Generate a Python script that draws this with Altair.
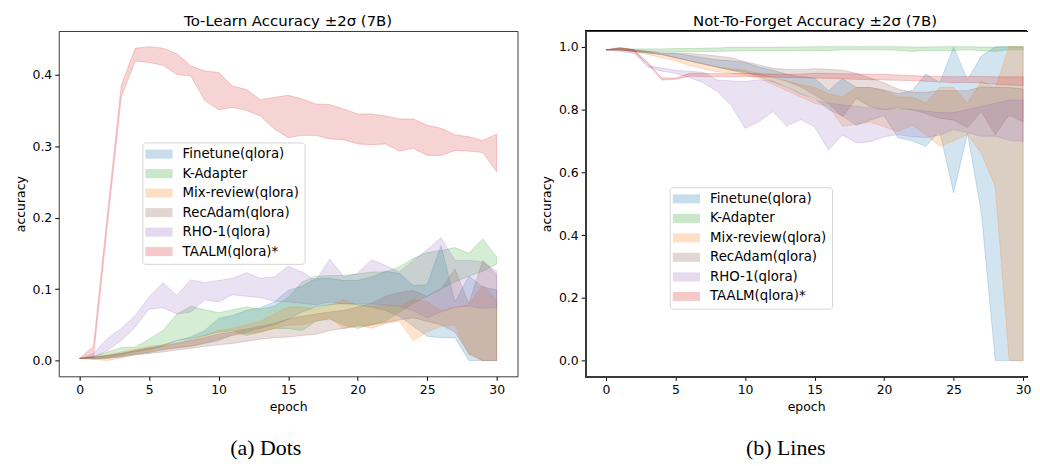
import altair as alt
import pandas as pd

EPOCHS = list(range(31))
SERIES = ["Finetune(qlora)", "K-Adapter", "Mix-review(qlora)", "RecAdam(qlora)", "RHO-1(qlora)", "TAALM(qlora)*"]
COLORS = ["#1f77b4", "#2ca02c", "#ff7f0e", "#8c564b", "#9467bd", "#d62728"]

# ---------- (a) To-Learn accuracy, lower / upper of the ±2σ band ----------
TL_FT_LO = [.003,.003,.004,.006,.009,.011,.015,.018,.020,.024,.028,.036,.040,.045,.050,.058,.068,.075,.078,.080,.078,.075,.070,.062,.048,.034,.032,.032,0,0,0]
TL_FT_HI = [.003,.005,.007,.010,.014,.017,.022,.028,.033,.042,.059,.063,.070,.074,.082,.098,.104,.115,.115,.112,.112,.117,.125,.122,.105,.106,.161,.082,.118,.103,.099]
TL_KA_LO = [.003,.003,.004,.008,.012,.015,.020,.028,.031,.035,.040,.042,.035,.040,.045,.045,.042,.055,.058,.050,.045,.050,.055,.068,.080,.090,.100,.110,.118,.125,.135]
TL_KA_HI = [.003,.006,.012,.018,.019,.030,.042,.065,.076,.071,.067,.071,.075,.072,.076,.088,.110,.118,.119,.119,.121,.124,.124,.131,.143,.151,.154,.158,.150,.170,.145]
TL_MR_LO = [.003,.002,.000,.004,.008,.012,.016,.018,.020,.025,.030,.035,.038,.040,.045,.050,.050,.055,.060,.045,.050,.045,.052,.055,.028,.040,.048,.050,.008,0,0]
TL_MR_HI = [.003,.005,.008,.012,.016,.020,.022,.025,.030,.035,.042,.045,.050,.055,.065,.075,.075,.072,.078,.085,.078,.075,.078,.075,.086,.082,.070,.075,.078,.105,.085]
TL_RA_LO = [.003,.002,.003,.005,.008,.010,.012,.015,.017,.020,.022,.024,.027,.030,.032,.033,.035,.037,.042,.045,.048,.050,.053,.057,.060,.055,.050,.040,.010,0,0]
TL_RA_HI = [.003,.005,.007,.010,.014,.018,.020,.024,.028,.032,.037,.040,.044,.048,.052,.058,.062,.065,.068,.070,.075,.080,.090,.095,.098,.090,.100,.128,.080,.140,.120]
TL_RH_LO = [.003,.004,.014,.028,.047,.072,.074,.065,.068,.085,.082,.092,.090,.088,.083,.082,.080,.078,.082,.079,.080,.079,.078,.076,.070,.060,.068,.075,.076,.073,.074]
TL_RH_HI = [.003,.010,.031,.045,.063,.089,.109,.091,.113,.109,.112,.115,.123,.115,.117,.132,.124,.112,.142,.117,.122,.141,.133,.124,.140,.155,.172,.140,.140,.138,.125]
TL_TA_LO = [.003,.005,.190,.369,.419,.417,.413,.400,.398,.364,.351,.354,.350,.342,.324,.312,.315,.315,.310,.309,.303,.302,.303,.293,.297,.287,.287,.294,.293,.291,.264]
TL_TA_HI = [.003,.0205,.205,.385,.437,.439,.437,.429,.412,.405,.403,.384,.379,.365,.368,.371,.366,.359,.358,.352,.345,.345,.342,.338,.338,.329,.325,.316,.313,.308,.317]

# ---------- (b) Not-To-Forget accuracy ----------
NF_FT_LO = [.99,.99,.985,.98,.975,.965,.955,.945,.935,.925,.92,.904,.888,.872,.851,.835,.80,.78,.75,.766,.78,.71,.70,.683,.73,.535,.724,.47,0,0,0]
NF_FT_HI = [.99,.995,.99,.985,.98,.978,.972,.965,.958,.955,.95,.935,.925,.912,.905,.90,.86,.899,.87,.87,.862,.85,.86,.913,.885,.998,.895,.97,1.0,1.0,1.0]
NF_KA_LO = [.99,.99,.985,.985,.985,.984,.984,.985,.985,.986,.987,.987,.987,.987,.988,.988,.987,.99,.99,.99,.99,.989,.985,.988,.988,.988,.99,.988,.985,.99,.99]
NF_KA_HI = [.99,.995,.993,.993,.993,.994,.994,.995,.996,.998,.998,.998,.998,.999,.999,1.0,1.0,1.0,1.0,1.0,1.0,1.0,.999,.999,1.0,1.0,1.0,.999,.998,1.0,1.0]
NF_MR_LO = [.99,.99,.985,.975,.965,.955,.94,.93,.92,.915,.91,.90,.88,.86,.84,.82,.81,.747,.753,.76,.745,.73,.75,.72,.683,.70,.72,.66,.553,0,0]
NF_MR_HI = [.99,.995,.99,.985,.975,.965,.955,.945,.935,.93,.925,.915,.90,.89,.88,.87,.85,.84,.87,.87,.86,.84,.84,.82,.87,.87,.82,.89,.87,1.0,1.0]
NF_RA_LO = [.99,.99,.985,.98,.975,.965,.955,.945,.935,.925,.915,.91,.904,.89,.872,.846,.82,.777,.835,.809,.80,.805,.80,.787,.772,.766,.743,.793,.72,.782,.761]
NF_RA_HI = [.99,.995,.99,.985,.98,.98,.978,.975,.97,.965,.952,.942,.931,.928,.926,.93,.928,.925,.915,.90,.885,.865,.855,.855,.86,.86,.86,.872,.87,.87,.865]
NF_RH_LO = [.99,.985,.979,.936,.922,.915,.902,.885,.857,.814,.74,.761,.793,.747,.768,.745,.671,.719,.694,.697,.713,.72,.713,.711,.718,.736,.726,.715,.715,.702,.698]
NF_RH_HI = [.99,.99,.99,.94,.932,.925,.922,.918,.894,.891,.889,.895,.89,.87,.85,.83,.82,.815,.81,.805,.80,.80,.80,.795,.79,.79,.80,.81,.82,.83,.83]
NF_TA_LO = [.99,.99,.985,.945,.894,.896,.906,.905,.905,.904,.905,.904,.903,.902,.901,.90,.899,.898,.896,.895,.894,.893,.892,.89,.888,.885,.886,.884,.88,.878,.876]
NF_TA_HI = [.99,.998,.99,.95,.901,.90,.915,.915,.914,.914,.915,.914,.913,.912,.913,.915,.915,.914,.913,.912,.912,.91,.908,.906,.905,.904,.905,.905,.904,.904,.904]

X_TICKS = [0, 5, 10, 15, 20, 25, 30]
TL_Y_TICKS = [0.0, 0.1, 0.2, 0.3, 0.4]
NF_Y_TICKS = [0.0, 0.2, 0.4, 0.6, 0.8, 1.0]

FONT = "DejaVu Sans"
RECT = "M-2.1,-0.7L2.1,-0.7L2.1,0.7L-2.1,0.7Z"
FRAME = "#3a3a3a"
HEIGHT = 347


def build_df(lows, highs):
    rows = []
    for name, lo, hi in zip(SERIES, lows, highs):
        for e, a, b in zip(EPOCHS, lo, hi):
            rows.append({"epoch": e, "series": name, "lo": a, "hi": b})
    return pd.DataFrame(rows)


def panel(title, lows, highs, ydom, yticks, lx, ly, width, xmax, framed, title_dx):
    df = build_df(lows, highs)
    area = alt.Chart(df).mark_area(
        fillOpacity=0.2, strokeOpacity=0.22, strokeWidth=1, interpolate="linear"
    ).encode(
        x=alt.X("epoch:Q", scale=alt.Scale(domain=[-1.5, xmax], nice=False, zero=False),
                axis=alt.Axis(values=X_TICKS, format="d", title="epoch", labelFlush=False)),
        y=alt.Y("lo:Q", stack=None, scale=alt.Scale(domain=ydom, nice=False, zero=False),
                axis=alt.Axis(values=yticks, format=".1f", title="accuracy", labelFlush=False)),
        y2="hi:Q",
        color=alt.Color("series:N", scale=alt.Scale(domain=SERIES, range=COLORS),
                        legend=alt.Legend(title=None, orient="none", legendX=lx, legendY=ly,
                                          symbolType=RECT, symbolSize=169, symbolOpacity=0.25,
                                          symbolStrokeWidth=0, symbolOffset=5,
                                          labelFont=FONT, labelFontSize=13.4, labelColor="#000",
                                          rowPadding=4.6, padding=5, labelOffset=17,
                                          strokeColor="#d4d4d4", fillColor="white",
                                          cornerRadius=3, labelLimit=300)),
        stroke=alt.Stroke("series:N", scale=alt.Scale(domain=SERIES, range=COLORS), legend=None),
    )
    layers = [area]
    if not framed:
        # axes frame drawn on three sides (the right border is cropped in the original figure)
        layers.append(alt.Chart(df).mark_rule(color=FRAME, strokeWidth=1).encode(
            x=alt.value(0), x2=alt.value(width), y=alt.value(0.5)))
        layers.append(alt.Chart(df).mark_rule(color=FRAME, strokeWidth=1).encode(
            x=alt.value(0), x2=alt.value(width), y=alt.value(HEIGHT + 0.5)))
        layers.append(alt.Chart(df).mark_rule(color=FRAME, strokeWidth=1).encode(
            x=alt.value(0.5), y=alt.value(0), y2=alt.value(HEIGHT)))
    ch = alt.layer(*layers).properties(
        width=width, height=HEIGHT,
        title=alt.TitleParams(title, font=FONT, fontSize=15, fontWeight="normal",
                              color="#000", offset=2, anchor="middle", dx=title_dx),
    )
    if framed:
        ch = ch.properties(view=alt.ViewBackground(stroke=FRAME, strokeWidth=1))
    else:
        ch = ch.properties(view=alt.ViewBackground(strokeOpacity=0))
    return ch


left = panel("To-Learn Accuracy \u00b12\u03c3 (7B)",
             [TL_FT_LO, TL_KA_LO, TL_MR_LO, TL_RA_LO, TL_RH_LO, TL_TA_LO],
             [TL_FT_HI, TL_KA_HI, TL_MR_HI, TL_RA_HI, TL_RH_HI, TL_TA_HI],
             [-0.022, 0.461], TL_Y_TICKS, 84, 112, 461, 31.5, True, 0)
# the original figure is cropped at its right border: same scale as the left panel
right = panel("Not-To-Forget Accuracy \u00b12\u03c3 (7B)",
              [NF_FT_LO, NF_KA_LO, NF_MR_LO, NF_RA_LO, NF_RH_LO, NF_TA_LO],
              [NF_FT_HI, NF_KA_HI, NF_MR_HI, NF_RA_HI, NF_RH_HI, NF_TA_HI],
              [-0.05, 1.05], NF_Y_TICKS, 85, 157, 444, -1.5 + 444 / 13.97, False, 9)


def captioned(ch, text):
    return alt.vconcat(ch, title=alt.TitleParams(text, orient="bottom", font="Liberation Serif",
                                                  fontSize=22, fontWeight="normal", color="#000",
                                                  anchor="middle", frame="bounds", offset=25))


chart = alt.hconcat(
    captioned(left, "(a) Dots"), captioned(right, "(b) Lines"), spacing=22
).resolve_scale(color="independent", stroke="independent").properties(
    padding={"left": 5, "top": 4, "right": 0, "bottom": 0}
).configure_view(
    stroke=FRAME, strokeWidth=1
).configure_axis(
    domain=False, grid=False, tickColor="#000", tickSize=4, labelPadding=3,
    labelFont=FONT, labelFontSize=12.5, labelColor="#000",
    titleFont=FONT, titleFontSize=12.5, titleFontWeight="normal", titleColor="#000",
    titlePadding=5
)

chart.save("out.html", embed_options={"renderer": "svg", "actions": False})
